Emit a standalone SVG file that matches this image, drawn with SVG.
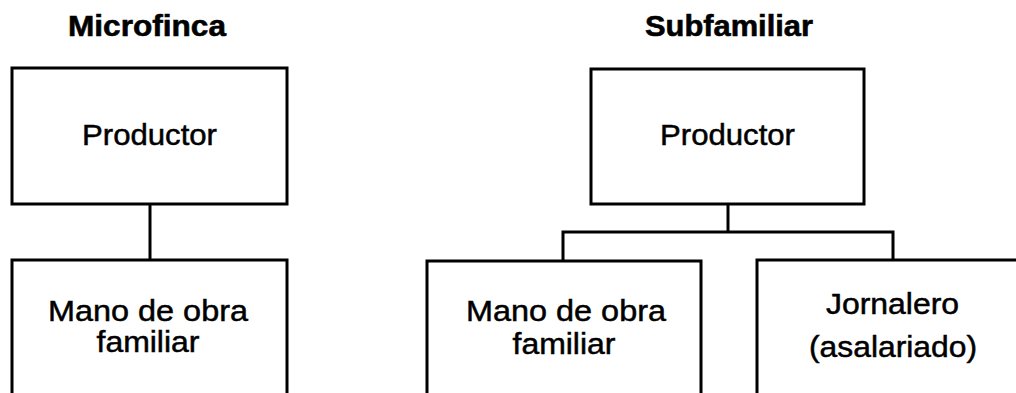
<svg xmlns="http://www.w3.org/2000/svg" width="1016" height="393" viewBox="0 0 1016 393">
<style>
.box{fill:#fff;stroke:#000;stroke-width:3}
.conn{fill:none;stroke:#000;stroke-width:3}
.t{font-family:"Liberation Sans",Arial,sans-serif;font-size:30px;fill:#000;stroke:#000;stroke-width:0.5;text-anchor:middle}
.h{font-family:"Liberation Sans",Arial,sans-serif;font-size:30px;font-weight:bold;fill:#000;stroke:#000;stroke-width:0.6;text-anchor:middle}
</style>
<rect width="1016" height="393" fill="#fff"/>
<text class="h" x="147" y="36" textLength="158" lengthAdjust="spacingAndGlyphs">Microfinca</text>
<text class="h" x="729" y="36" textLength="168" lengthAdjust="spacingAndGlyphs">Subfamiliar</text>
<g id="connectors">
<line class="conn" x1="150" y1="204" x2="150" y2="261"/>
<polyline class="conn" points="728,204 728,232"/>
<polyline class="conn" points="563,261 563,232 893,232 893,261"/>
</g>
<g id="n1">
<rect class="box" x="12" y="68" width="275" height="136"/>
<text class="t" x="149.5" y="145" textLength="135" lengthAdjust="spacingAndGlyphs">Productor</text>
</g>
<g id="n2">
<rect class="box" x="12" y="260" width="275" height="160"/>
<text class="t" x="148" y="321" textLength="200" lengthAdjust="spacingAndGlyphs">Mano de obra</text>
<text class="t" x="148" y="352" textLength="103" lengthAdjust="spacingAndGlyphs">familiar</text>
</g>
<g id="n3">
<rect class="box" x="591" y="69" width="273" height="135"/>
<text class="t" x="727.5" y="145" textLength="135" lengthAdjust="spacingAndGlyphs">Productor</text>
</g>
<g id="n4">
<rect class="box" x="427" y="261" width="274" height="160"/>
<text class="t" x="566" y="321" textLength="200" lengthAdjust="spacingAndGlyphs">Mano de obra</text>
<text class="t" x="564" y="354" textLength="103" lengthAdjust="spacingAndGlyphs">familiar</text>
</g>
<g id="n5">
<rect class="box" x="757" y="260" width="274" height="160"/>
<text class="t" x="892.5" y="314" textLength="133" lengthAdjust="spacingAndGlyphs">Jornalero</text>
<text class="t" x="893" y="357" textLength="168" lengthAdjust="spacingAndGlyphs">(asalariado)</text>
</g>
</svg>
